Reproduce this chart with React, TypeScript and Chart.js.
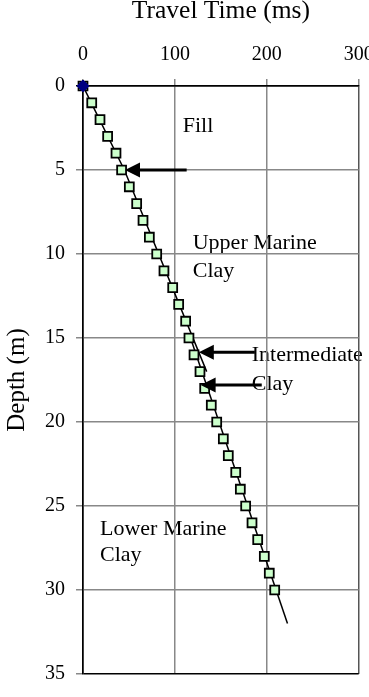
import React, { useEffect, useRef } from "react";
import { Chart, registerables } from "chart.js";

Chart.register(...registerables);

// Measured travel times (ms) at each depth (m)
const depths = [0, 1, 2, 3, 4, 5, 6, 7, 8, 9, 10, 11, 12, 13, 14, 15, 16, 17, 18, 19, 20, 21, 22, 23, 24, 25, 26, 27, 28, 29, 30];
const travelTimes = [0, 9.5, 18.5, 26.8, 35.9, 42, 50.4, 58.4, 65.3, 72.2, 80.2, 88.1, 97.6, 104.1, 111.7, 115.3, 120.8, 127.3, 132.4, 139.6, 145.5, 152.7, 158.1, 166.2, 171.2, 177, 183.9, 190.1, 197.3, 202.7, 208.6];

// Source point
const sourceTime = [0];
const sourceDepth = [0];

// Fitted lines
const upperFitTime = [0, 45, 134.6];
const upperFitDepth = [0, 5, 17];
const lowerFitTime = [117, 222.5];
const lowerFitDepth = [15, 32];

// Arrows (pointing left)
const arrowDepths = [5, 15.85, 17.8];
const arrowTails = [112.8, 187, 194.5];
const arrowTips = [45.7, 126, 128];

// Layer labels
const labelTexts = ["Fill", "Upper Marine", "Clay", "Intermediate", "Clay", "Lower Marine", "Clay"];
const labelTimes = [108.5, 119.4, 119.4, 183.6, 183.6, 18.5, 18.5];
const labelDepths = [2.71, 9.71, 11.37, 16.35, 18.1, 26.71, 28.27];

// Axis ticks
const xTicks = [0, 100, 200, 300];
const yTicks = [0, 5, 10, 15, 20, 25, 30, 35];

const FONT = "'Liberation Serif', 'Times New Roman', serif";

const toPts = (xs: number[], ys: number[]) => xs.map((x, i) => ({ x, y: ys[i] }));

export default function App() {
  const ref = useRef<HTMLCanvasElement | null>(null);

  useEffect(() => {
    if (!ref.current) return;

    const labelsPlugin = {
      id: "layerLabels",
      beforeDraw(chart: any) {
        const { ctx, scales } = chart;
        ctx.save();
        ctx.fillStyle = "#000";
        ctx.font = `22px ${FONT}`;
        ctx.textAlign = "left";
        ctx.textBaseline = "alphabetic";
        labelTexts.forEach((t, i) => {
          ctx.fillText(t, scales.x.getPixelForValue(labelTimes[i]), scales.y.getPixelForValue(labelDepths[i]));
        });
        ctx.restore();
      },
    };

    const arrowsPlugin = {
      id: "arrows",
      afterDatasetsDraw(chart: any) {
        const { ctx, scales } = chart;
        ctx.save();
        ctx.strokeStyle = "#000";
        ctx.fillStyle = "#000";
        ctx.lineWidth = 3;
        arrowDepths.forEach((d, i) => {
          const y = scales.y.getPixelForValue(d);
          const x1 = scales.x.getPixelForValue(arrowTails[i]);
          const x0 = scales.x.getPixelForValue(arrowTips[i]);
          const headLen = 15;
          const headHalf = 7.5;
          ctx.beginPath();
          ctx.moveTo(x1, y);
          ctx.lineTo(x0 + headLen - 1, y);
          ctx.stroke();
          ctx.beginPath();
          ctx.moveTo(x0, y);
          ctx.lineTo(x0 + headLen, y - headHalf);
          ctx.lineTo(x0 + headLen, y + headHalf);
          ctx.closePath();
          ctx.fill();
        });
        ctx.restore();
      },
    };

    const chart = new Chart(ref.current, {
      type: "scatter",
      data: {
        datasets: [
          {
            label: "Upper fit",
            data: toPts(upperFitTime, upperFitDepth),
            showLine: true,
            borderColor: "#000",
            borderWidth: 1.5,
            pointRadius: 0,
            order: 4,
          },
          {
            label: "Lower fit",
            data: toPts(lowerFitTime, lowerFitDepth),
            showLine: true,
            borderColor: "#000",
            borderWidth: 1.5,
            pointRadius: 0,
            order: 3,
          },
          {
            label: "Measured",
            data: toPts(travelTimes, depths),
            showLine: false,
            pointStyle: "rect",
            pointRadius: 6.3,
            backgroundColor: "#ccffcc",
            borderColor: "#000",
            borderWidth: 1.8,
            clip: false,
            order: 2,
          },
          {
            label: "Source",
            data: toPts(sourceTime, sourceDepth),
            showLine: false,
            pointStyle: "rectRot",
            pointRadius: 6,
            backgroundColor: "#000080",
            borderColor: "#000080",
            borderWidth: 1,
            clip: false,
            order: 1,
          },
        ],
      },
      options: {
        responsive: false,
        animation: false,
        devicePixelRatio: 1,
        layout: { padding: { left: 0, top: 0, right: 41.3, bottom: 14 } },
        plugins: { legend: { display: false }, tooltip: { enabled: false } },
        scales: {
          x: {
            type: "linear",
            position: "top",
            min: 0,
            max: 300,
            afterBuildTicks: (s: any) => {
              s.ticks = xTicks.map((v) => ({ value: v }));
            },
            afterFit: (s: any) => {
              s.height = 86;
            },
            ticks: {
              color: "#000",
              padding: 12,
              maxRotation: 0,
              font: { family: FONT, size: 20, lineHeight: 1.2 },
            },
            grid: {
              color: (c: any) => (c.index === 0 ? "#000" : c.index === xTicks.length - 1 ? "#555" : "#888"),
              tickColor: "#888",
              lineWidth: 1.5,
              tickLength: 7,
            },
            border: { color: "#000", width: 1.5 },
            title: {
              display: true,
              text: "Travel Time (ms)",
              color: "#000",
              font: { family: FONT, size: 25.5, lineHeight: 1 },
              padding: { top: -1.5, bottom: 0 },
            },
          },
          y: {
            type: "linear",
            position: "left",
            reverse: true,
            min: 0,
            max: 35,
            afterBuildTicks: (s: any) => {
              s.ticks = yTicks.map((v) => ({ value: v }));
            },
            afterFit: (s: any) => {
              s.width = 83;
            },
            ticks: {
              color: "#000",
              padding: 11,
              font: { family: FONT, size: 20, lineHeight: 1.2 },
            },
            grid: {
              color: (c: any) => (c.index === 0 || c.index === yTicks.length - 1 ? "#000" : "#888"),
              tickColor: (c: any) => (c.index === 0 ? "#000" : "#888"),
              lineWidth: 1.5,
              tickLength: 7,
            },
            border: { color: "#000", width: 1.5 },
            title: {
              display: true,
              text: "Depth (m)",
              color: "#000",
              font: { family: FONT, size: 25, lineHeight: 1 },
              padding: { top: 4.5, bottom: 0 },
            },
          },
        },
      },
      plugins: [labelsPlugin, arrowsPlugin],
    } as any);

    return () => chart.destroy();
  }, []);

  return (
    <div style={{ position: "fixed", left: 0, top: 0, width: 369, height: 697, overflow: "hidden", background: "#fff" }}>
      <canvas ref={ref} width={400} height={697} style={{ display: "block", width: 400, height: 697 }} />
    </div>
  );
}
